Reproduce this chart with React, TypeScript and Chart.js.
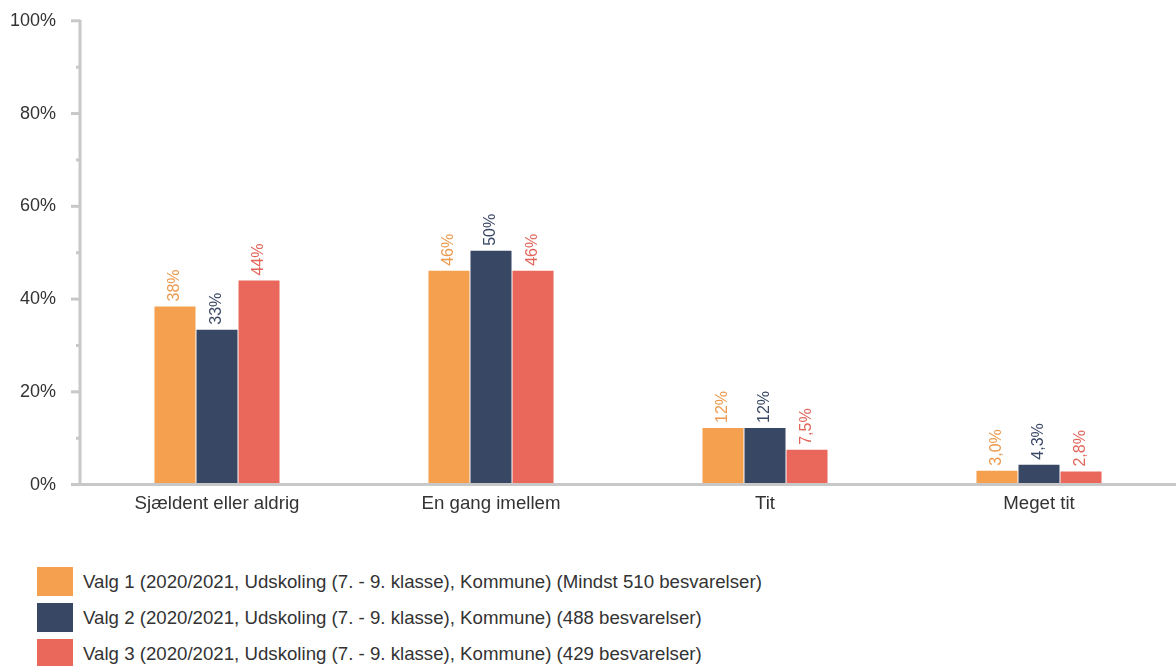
import React, { useEffect, useRef } from "react";
import { Chart, registerables } from "chart.js";
Chart.register(...registerables);

const categories = ["Sjældent eller aldrig", "En gang imellem", "Tit", "Meget tit"];
const seriesNames = [
  "Valg 1 (2020/2021, Udskoling (7. - 9. klasse), Kommune) (Mindst 510 besvarelser)",
  "Valg 2 (2020/2021, Udskoling (7. - 9. klasse), Kommune) (488 besvarelser)",
  "Valg 3 (2020/2021, Udskoling (7. - 9. klasse), Kommune) (429 besvarelser)",
];
const valg1 = [38.4, 46.1, 12.2, 3.0];
const valg2 = [33.4, 50.4, 12.2, 4.3];
const valg3 = [44.0, 46.1, 7.5, 2.8];
const barColors = ["#f4a04f", "#374764", "#ea685b"];
const labelColors = ["#ec9a4e", "#3a4866", "#e2655a"];
const yTicks = [0, 20, 40, 60, 80, 100];

const FONT = "'Liberation Sans', Arial, sans-serif";

function fmt(v: number) {
  if (v >= 10) return Math.round(v) + "%";
  return v.toFixed(1).replace(".", ",") + "%";
}

const axisPlugin = {
  id: "axisPlugin",
  afterDraw(chart: any) {
    const ctx = chart.ctx;
    const y = chart.scales.y;
    const area = chart.chartArea;
    ctx.save();
    ctx.strokeStyle = "#c8c8c8";
    ctx.lineWidth = 3;
    ctx.beginPath();
    ctx.moveTo(area.left, y.getPixelForValue(100) - 1);
    ctx.lineTo(area.left, y.getPixelForValue(0));
    ctx.stroke();
    ctx.beginPath();
    ctx.moveTo(area.left - 9, y.getPixelForValue(0));
    ctx.lineTo(chart.width, y.getPixelForValue(0));
    ctx.stroke();
    for (let v = 0; v <= 100; v += 10) {
      const py = y.getPixelForValue(v);
      const len = v % 20 === 0 ? 9 : 4;
      ctx.beginPath();
      ctx.moveTo(area.left - len, py);
      ctx.lineTo(area.left, py);
      ctx.stroke();
    }
    ctx.restore();
  },
};

const labelPlugin = {
  id: "labelPlugin",
  afterDatasetsDraw(chart: any) {
    const ctx = chart.ctx;
    ctx.save();
    ctx.font = "16px " + FONT;
    chart.data.datasets.forEach((ds: any, di: number) => {
      const meta = chart.getDatasetMeta(di);
      meta.data.forEach((bar: any, i: number) => {
        const v = ds.data[i];
        ctx.save();
        ctx.translate(bar.x, bar.y - 5);
        ctx.rotate(-Math.PI / 2);
        ctx.fillStyle = labelColors[di];
        ctx.textAlign = "left";
        ctx.textBaseline = "middle";
        ctx.fillText(fmt(v), 0, 0);
        ctx.restore();
      });
    });
    ctx.restore();
  },
};

export default function App() {
  const ref = useRef<HTMLCanvasElement>(null);
  useEffect(() => {
    const data = [valg1, valg2, valg3];
    const chart = new Chart(ref.current!, {
      type: "bar",
      data: {
        labels: categories,
        datasets: data.map((d, i) => ({
          label: seriesNames[i],
          data: d,
          backgroundColor: barColors[i],
          categoryPercentage: 0.46,
          barPercentage: 0.976,
        })),
      },
      options: {
        animation: false,
        responsive: false,
        maintainAspectRatio: false,
        layout: { padding: { top: 0, right: 0, left: 0, bottom: 0 } },
        plugins: { legend: { display: false }, tooltip: { enabled: false } },
        scales: {
          x: {
            grid: { display: false, drawTicks: false },
            border: { display: false },
            ticks: { color: "#333", font: { size: 18.67, family: FONT }, padding: 8 },
          },
          y: {
            min: 0,
            max: 100,
            afterBuildTicks: (s: any) => {
              s.ticks = yTicks.map((v) => ({ value: v }));
            },
            afterFit: (s: any) => {
              s.width = 80;
            },
            grid: { display: false, drawTicks: false },
            border: { display: false },
            ticks: {
              color: "#333",
              font: { size: 18, family: FONT },
              padding: 24,
              callback: (v: any) => v + "%",
            },
          },
        },
      },
      plugins: [axisPlugin, labelPlugin],
    });
    return () => chart.destroy();
  }, []);

  return (
    <div style={{ position: "absolute", left: 0, top: 0, width: 1176, height: 666, background: "#fff", fontFamily: FONT, overflow: "hidden" }}>
      <canvas ref={ref} width={1176} height={537} style={{ position: "absolute", left: 0, top: -14 }} />
      {seriesNames.map((n, i) => (
        <div key={i} style={{ position: "absolute", left: 37, top: 567 + i * 36, height: 29, display: "flex", alignItems: "center" }}>
          <div style={{ width: 36, height: 29, background: barColors[i] }} />
          <span style={{ marginLeft: 10, fontSize: 18.67, color: "#333", whiteSpace: "nowrap" }}>{n}</span>
        </div>
      ))}
    </div>
  );
}
